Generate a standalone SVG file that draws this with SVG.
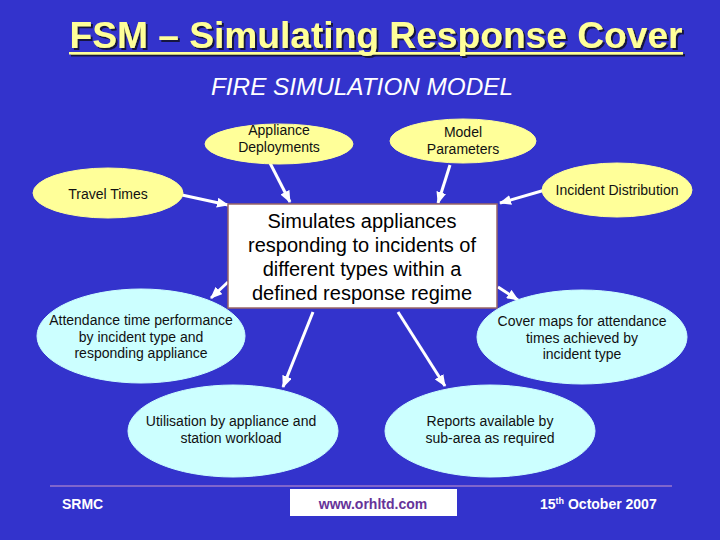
<svg xmlns="http://www.w3.org/2000/svg" width="720" height="540" viewBox="0 0 720 540">
<defs>
<marker id="ah" markerWidth="12" markerHeight="10" refX="11" refY="5" orient="auto" markerUnits="userSpaceOnUse">
<path d="M0,0 L12,5 L0,10 Z" fill="#ffffff"/>
</marker>
<filter id="sh" x="-5%" y="-20%" width="110%" height="150%">
<feDropShadow dx="2" dy="2" stdDeviation="0.3" flood-color="#141440" flood-opacity="1"/>
</filter>
<style>
.y{fill:#FFFF99;stroke:#FFFF99}
.c{fill:#CCFFFF;stroke:#CCFFFF}
.t{font-family:"Liberation Sans",Arial,sans-serif;font-size:14px;fill:#111;text-anchor:middle}
.big{font-family:"Liberation Sans",Arial,sans-serif;font-size:20px;fill:#000;text-anchor:middle}
.conn line{stroke:#fff;stroke-width:3;marker-end:url(#ah)}
.ft{font-family:"Liberation Sans",Arial,sans-serif;font-size:14px;font-weight:bold;fill:#fff}
</style>
</defs>
<rect width="720" height="540" fill="#3333CC"/>
<g id="title" filter="url(#sh)">
<text x="376" y="48" text-anchor="middle" font-family="'Liberation Sans',Arial,sans-serif" font-weight="bold" font-size="36" fill="#FFFF99" textLength="613" lengthAdjust="spacingAndGlyphs">FSM – Simulating Response Cover</text>
<rect x="69" y="52" width="614" height="2.5" fill="#FFFF99"/>
</g>
<text x="362" y="95" text-anchor="middle" font-family="'Liberation Sans',Arial,sans-serif" font-style="italic" font-size="23" fill="#fff" textLength="302" lengthAdjust="spacingAndGlyphs">FIRE SIMULATION MODEL</text>
<g class="conn" id="connectors">
<line x1="182" y1="195" x2="228" y2="205"/>
<line x1="270" y1="163" x2="290" y2="202"/>
<line x1="450" y1="165" x2="438" y2="203"/>
<line x1="545" y1="190" x2="500" y2="203"/>
<line x1="228" y1="282" x2="211" y2="298"/>
<line x1="313" y1="312" x2="283" y2="387"/>
<line x1="398" y1="312" x2="445" y2="386"/>
<line x1="498" y1="287" x2="518" y2="300"/>
</g>
<g id="appliance">
<ellipse class="y" cx="279" cy="144" rx="74" ry="20"/>
<text class="t" x="279" y="135">Appliance</text>
<text class="t" x="279" y="152">Deployments</text>
</g>
<g id="model">
<ellipse class="y" cx="463" cy="141" rx="73" ry="22"/>
<text class="t" x="463" y="137">Model</text>
<text class="t" x="463" y="154">Parameters</text>
</g>
<g id="travel">
<ellipse class="y" cx="108" cy="193" rx="75" ry="25"/>
<text class="t" x="108" y="199">Travel Times</text>
</g>
<g id="incident">
<ellipse class="y" cx="617" cy="190" rx="75" ry="27"/>
<text class="t" x="617" y="195">Incident Distribution</text>
</g>
<g id="sim">
<rect x="228" y="204" width="269" height="104" fill="#fff" stroke="#996666" stroke-width="1.5"/>
<text class="big" x="362" y="228">Simulates appliances</text>
<text class="big" x="362" y="252">responding to incidents of</text>
<text class="big" x="362" y="276">different types within a</text>
<text class="big" x="362" y="300">defined response regime</text>
</g>
<g id="attendance">
<ellipse class="c" cx="141" cy="336" rx="104" ry="47"/>
<text class="t" x="141" y="325">Attendance time performance</text>
<text class="t" x="141" y="342">by incident type and</text>
<text class="t" x="141" y="358">responding appliance</text>
</g>
<g id="cover">
<ellipse class="c" cx="582" cy="337" rx="105" ry="47"/>
<text class="t" x="582" y="326">Cover maps for attendance</text>
<text class="t" x="582" y="343">times achieved by</text>
<text class="t" x="582" y="359">incident type</text>
</g>
<g id="utilisation">
<ellipse class="c" cx="233" cy="431" rx="105" ry="46"/>
<text class="t" x="231" y="426">Utilisation by appliance and</text>
<text class="t" x="231" y="443">station workload</text>
</g>
<g id="reports">
<ellipse class="c" cx="490" cy="431" rx="105" ry="46"/>
<text class="t" x="490" y="426">Reports available by</text>
<text class="t" x="490" y="443">sub-area as required</text>
</g>
<g id="footer">
<line x1="50" y1="486" x2="672" y2="486" stroke="#CC99CC" stroke-width="1"/>
<text class="ft" x="62" y="509">SRMC</text>
<rect x="290" y="489" width="167" height="27" fill="#fff"/>
<text x="373" y="509" text-anchor="middle" font-family="'Liberation Sans',Arial,sans-serif" font-size="14" font-weight="bold" fill="#663399">www.orhltd.com</text>
<text class="ft" x="540" y="509">15<tspan font-size="9" dy="-5">th</tspan><tspan dy="5"> October 2007</tspan></text>
</g>
</svg>
